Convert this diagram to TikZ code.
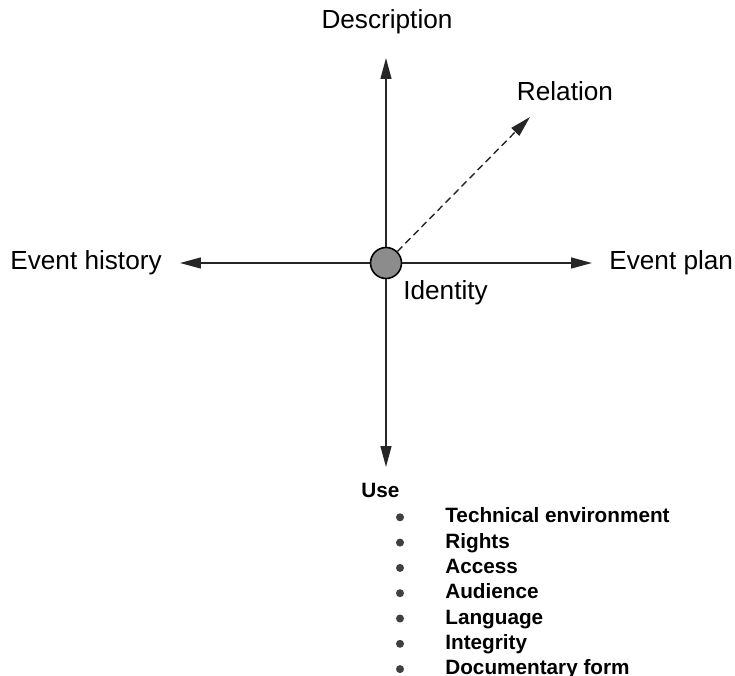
\documentclass[tikz,border=0pt]{standalone}
\usepackage{fontspec}
\setmainfont{Liberation Sans}
\usetikzlibrary{arrows.meta,positioning}

\begin{document}
\begin{tikzpicture}[x=0.02cm,y=-0.02cm,
    axis/.style={draw=black!85, line width=0.8pt, -{Triangle[length=4.2mm,width=2.2mm]}},
    lbl/.style={font=\fontsize{14.9}{17}\selectfont, inner sep=0pt},
    item/.style={font=\fontsize{11.8}{14}\selectfont\bfseries, inner sep=0pt, anchor=base west}]
    \useasboundingbox (0,0) rectangle (735,676);

    % Draw centre
    \node[circle, draw=black, line width=0.9pt, fill=black!45, minimum size=0.62cm, inner sep=0pt] (id) at (386,263) {};

    % Arrow ends
    \coordinate (up) at (386,58);
    \coordinate (down) at (386,467);
    \coordinate (left) at (180,263);
    \coordinate (right) at (592,263);
    \coordinate (rel) at (530,117);

    % Draw axes
    \draw[axis] (id) -- (up);
    \draw[axis] (id) -- (down);
    \draw[axis] (id) -- (left);
    \draw[axis] (id) -- (right);
    \draw[axis, dash pattern=on 4pt off 2.5pt] (id) -- (rel);

    % Add labels
    \node[lbl] (desc) at (387,22) {Description};
    \node[lbl] (relation) at (565,91) {Relation};
    \node[lbl, anchor=west] (hist) at (10,263) {Event history};
    \node[lbl, anchor=west] (plan) at (609,263) {Event plan};
    \node[lbl, anchor=west] (idlbl) at (403,293) {Identity};

    % Use list
    \node[item] (use) at (361,497.5) {Use};
    \foreach \txt [count=\i] in {Technical environment, Rights, Access, Audience, Language, Integrity, Documentary form} {
        \fill[black!75] (400,{492+25.3*\i}) circle (0.08cm);
        \node[item] (it\i) at (445,{497.5+25.3*\i}) {\txt};
    }
\end{tikzpicture}
\end{document}
